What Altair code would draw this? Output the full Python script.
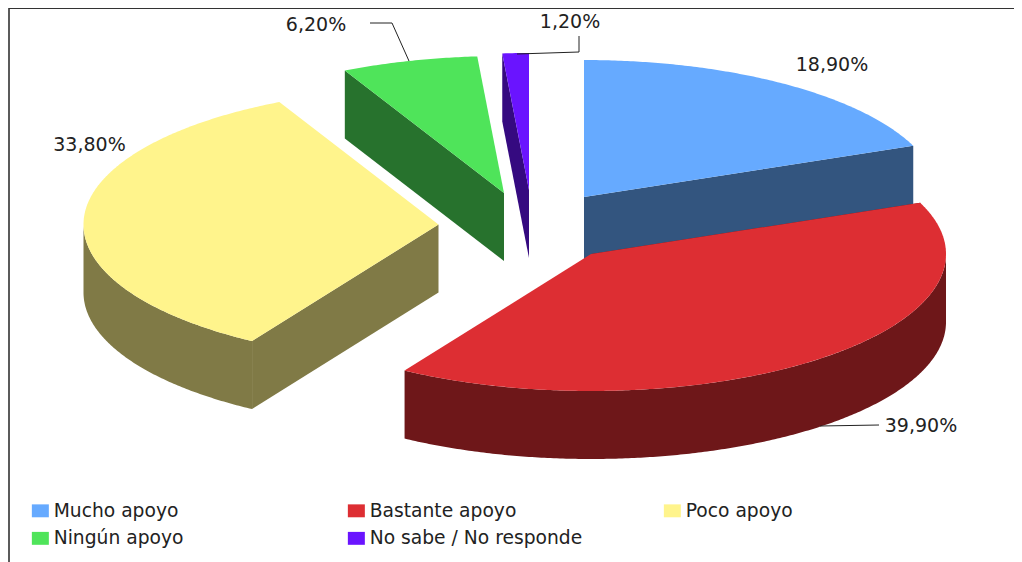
import math
import altair as alt
import pandas as pd

categories = ["Mucho apoyo", "Bastante apoyo", "Poco apoyo", "Ningún apoyo", "No sabe / No responde"]
shares = [18.9, 39.9, 33.8, 6.2, 1.2]
labels = ["18,90%", "39,90%", "33,80%", "6,20%", "1,20%"]
top_colors = ["#66AAFF", "#DD2E33", "#FFF48C", "#4FE45A", "#6A14FF"]
side_colors = ["#33557F", "#6E1719", "#807A46", "#27722D", "#350A80"]

# layout of the exploded pseudo-3D pie (page pixels)
apex = [(584, 197), (591, 254), (438.5, 224.5), (504, 193), (529, 190)]
label_pos = [(832, 65), (921, 426), (89.5, 145), (316, 25), (570, 22)]
RX, RY, DEPTH = 355, 137, 68


def rim(c, t):
    r = math.radians(t)
    return c[0] + RX * math.sin(r), c[1] - RY * math.cos(r)


def arc_points(c, t0, t1):
    n = max(2, int(abs(t1 - t0)) * 2)
    return [rim(c, t0 + (t1 - t0) * k / n) for k in range(n + 1)]


tops, sides = [], []


def add(rows, face, cat, shade, pts):
    for i, (x, y) in enumerate(pts):
        rows.append(dict(face=face, cat=cat, shade=shade, i=i, x=x, y=y))


start = 0.0
for k, cat in enumerate(categories):
    end = start + shares[k] * 3.6
    c = apex[k]
    add(tops, f"t{k}", cat, top_colors[k], [c] + arc_points(c, start, end))
    # radial cut face
    cut = end if k == 0 else start
    e = rim(c, cut)
    add(sides, f"r{k}", cat, side_colors[k],
        [c, e, (e[0], e[1] + DEPTH), (c[0], c[1] + DEPTH)])
    # outer wall, the part turned to the viewer
    w0, w1 = max(start, 90), min(end, 270)
    if w1 > w0:
        a = arc_points(c, w0, w1)
        add(sides, f"w{k}", cat, side_colors[k],
            a + [(x, y + DEPTH) for x, y in reversed(a)])
    start = end

W, H = 1006, 554
X = alt.X("x:Q", scale=alt.Scale(domain=[8, 8 + W], nice=False, zero=False), axis=None)
Y = alt.Y("y:Q", scale=alt.Scale(domain=[8 + H, 8], nice=False, zero=False), axis=None)

side_layer = alt.Chart(pd.DataFrame(sides)).mark_line(strokeWidth=0, interpolate="linear").encode(
    x=X, y=Y, order="i:Q", detail="face:N",
    fill=alt.Fill("shade:N", scale=None),
)

top_layer = alt.Chart(pd.DataFrame(tops)).mark_line(strokeWidth=0, interpolate="linear").encode(
    x=X, y=Y, order="i:Q", detail="face:N",
    fill=alt.Fill(
        "cat:N",
        scale=alt.Scale(domain=categories, range=top_colors),
        sort=categories,
        legend=alt.Legend(
            title=None, orient="none", legendX=23, legendY=493, direction="horizontal",
            columns=3, gridAlign="all", columnPadding=80, rowPadding=8,
            symbolType="M-1,-0.76H1V0.76H-1Z", symbolSize=289, symbolStrokeWidth=0,
            labelFont="DejaVu Sans", labelFontSize=18.7, labelColor="#222222", labelOffset=4,
            labelLimit=400,
        ),
    ),
)

label_df = pd.DataFrame(dict(x=[p[0] for p in label_pos], y=[p[1] for p in label_pos], t=labels))
text_layer = alt.Chart(label_df).mark_text(
    font="DejaVu Sans", fontSize=19, color="#222222", align="center", baseline="middle"
).encode(x=X, y=Y, text="t:N")

leaders = pd.DataFrame(
    [dict(g=g, i=i, x=x, y=y) for g, pts in enumerate([
        [(370, 23), (392, 23), (409, 61)],
        [(517, 54), (579, 52), (579, 36)],
        [(820, 426), (879, 425)],
    ]) for i, (x, y) in enumerate(pts)]
)
leader_layer = alt.Chart(leaders).mark_line(color="#222222", strokeWidth=1).encode(
    x=X, y=Y, order="i:Q", detail="g:N"
)

frame = pd.DataFrame(
    [dict(i=0, x=9, y=8 + H), dict(i=1, x=9, y=8.2), dict(i=2, x=8 + W, y=8.2)]
)
frame_layer = alt.Chart(frame).mark_line(color="#333333", strokeWidth=1.6).encode(
    x=X, y=Y, order="i:Q"
)

chart = (
    alt.layer(side_layer, top_layer, leader_layer, text_layer, frame_layer)
    .properties(width=W, height=H, padding=0, autosize=alt.AutoSizeParams(type="none"))
    .configure_view(stroke=None)
    .configure_axis(grid=False)
)
chart.save("out.html", embed_options={"renderer": "svg", "actions": False})
